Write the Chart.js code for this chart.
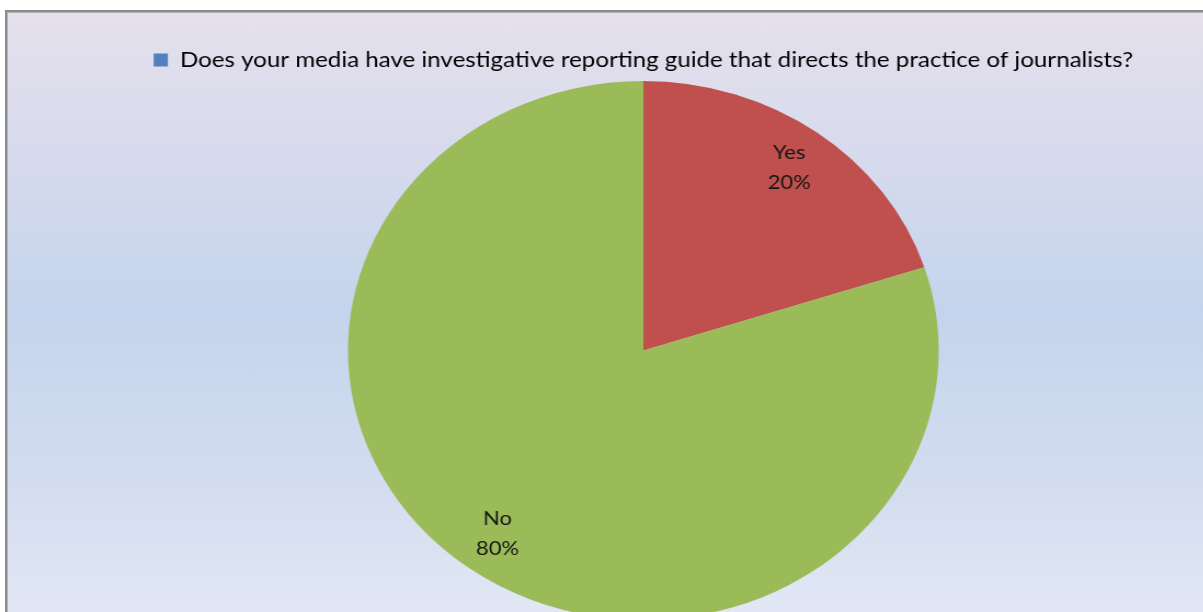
<!DOCTYPE html>
<html>
<head>
<meta charset="utf-8">
<script src="https://cdn.jsdelivr.net/npm/chart.js@4/dist/chart.umd.min.js"></script>
<style>
  html, body { margin: 0; padding: 0; width: 1203px; height: 612px; overflow: hidden; background: #fff; }
  #frame {
    position: absolute; left: 5px; top: 10px; width: 1300px; height: 700px;
    border: 2px solid #8c8c8c;
    box-shadow: inset 1px 1px 0 #b4b4b4;
    background: linear-gradient(to bottom, #e5e0ed 0px, #d6daec 150px, #c4d4ec 300px, #d4ddf0 480px, #e1e7f4 600px);
  }
  #wrap {
    position: absolute; left: 0; top: 0; width: 1098px; height: 620px;
    transform: scaleX(1.096); transform-origin: 0 0;
  }
</style>
</head>
<body>
<div id="frame"></div>
<div id="wrap"><canvas id="chart"></canvas></div>
<script>
const seriesName = "Does your media have investigative reporting guide that directs the practice of journalists?";
const categories = ["Yes", "No"];
const values = [20, 80];
const sliceColors = ["#c0504d", "#9bbb59"];
const seriesColor = "#4f81bd";

// writes "Yes / 20%" inside each slice, a bit in from the rim
const sliceLabels = {
  id: "sliceLabels",
  afterDatasetsDraw(chart) {
    const ctx = chart.ctx;
    const meta = chart.getDatasetMeta(0);
    const total = values.reduce((a, b) => a + b, 0);
    ctx.save();
    ctx.font = "20px Lato";
    ctx.fillStyle = "#161616";
    ctx.textAlign = "center";
    ctx.textBaseline = "middle";
    meta.data.forEach((arc, i) => {
      const mid = (arc.startAngle + arc.endAngle) / 2;
      const r = arc.outerRadius * 0.84;
      const x = arc.x + Math.cos(mid) * r;
      const y = arc.y + Math.sin(mid) * r;
      const pct = Math.round(values[i] / total * 100) + "%";
      ctx.fillText(categories[i], x, y - 15);
      ctx.fillText(pct, x, y + 15);
    });
    ctx.restore();
  }
};

new Chart(document.getElementById("chart"), {
  type: "pie",
  data: {
    labels: categories,
    datasets: [{
      label: seriesName,
      data: values,
      backgroundColor: sliceColors,
      borderWidth: 0
    }]
  },
  options: {
    responsive: true,
    maintainAspectRatio: false,
    animation: false,
    layout: { padding: { top: 39, left: 76, right: 0, bottom: 0 } },
    plugins: {
      tooltip: { enabled: false },
      legend: {
        position: "top",
        labels: {
          boxWidth: 13,
          boxHeight: 13,
          padding: 10,
          color: "#1e1e1e",
          font: { family: "Lato", size: 22 },
          generateLabels: () => [{
            text: seriesName,
            fillStyle: seriesColor,
            strokeStyle: seriesColor,
            lineWidth: 0,
            hidden: false
          }]
        }
      }
    }
  },
  plugins: [sliceLabels]
});
</script>
</body>
</html>
